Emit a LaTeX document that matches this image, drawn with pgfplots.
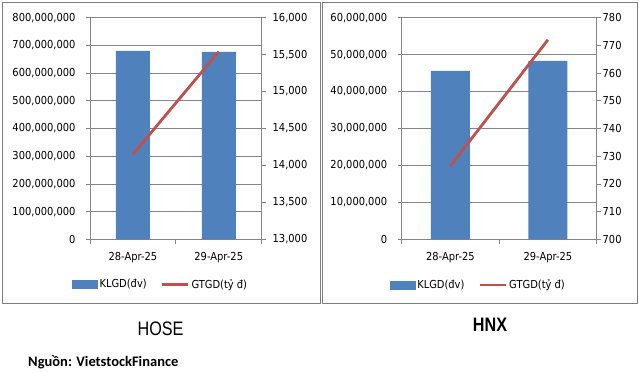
\documentclass[border=0pt]{standalone}
\usepackage{pgfplots}
\pgfplotsset{compat=1.18}
\usepackage{fontspec}
\setmainfont{DejaVu Sans}[FakeStretch=0.9]
\newfontfamily\titlefont{Liberation Sans}
\newfontfamily\srcfont{Carlito}
\definecolor{barblue}{HTML}{4F81BD}
\definecolor{linered}{HTML}{C0504D}
\definecolor{gridgray}{HTML}{868686}
\definecolor{boxgray}{HTML}{7F7F7F}
\pgfplotsset{
  common/.style={
    scale only axis, xmin=-0.5, xmax=1.5,
    tick align=outside, major tick length=4bp, minor tick length=5bp,
    tick style={draw=gridgray, line width=0.75bp},
    axis line style={draw=gridgray, line width=0.75bp, -},
    scaled y ticks=false,
    tick label style={font=\fontsize{11bp}{13bp}\selectfont},
    yticklabel style={/pgf/number format/fixed, /pgf/number format/precision=0,
      /pgf/number format/1000 sep={,}, /pgf/number format/assume math mode=true},
  },
  leftaxis/.style={
    common,
    axis x line*=bottom, axis y line*=left,
    xtick={0,1}, xticklabels={28-Apr-25,29-Apr-25},
    major x tick style={draw=none},
    minor xtick={-0.5,0.5,1.5},
    minor x tick style={draw=gridgray, line width=0.75bp},
    xticklabel style={yshift=-5bp},
    yticklabel style={xshift=-7bp},
    ymajorgrids, grid style={draw=gridgray, line width=0.75bp},
  },
  rightaxis/.style={
    common,
    axis y line*=right, axis x line=none,
    legend columns=2,
    legend style={draw=none, fill=none, inner sep=0pt, anchor=west,
      font=\fontsize{11bp}{13bp}\selectfont,
      /tikz/every even column/.append style={column sep=12bp}},
    legend cell align=left,
  },
  barlegend/.style={legend image code/.code={\fill[barblue] (0bp,-4bp) rectangle (25bp,4bp);}},
  linelegend/.style={legend image code/.code={\draw[linered, line width=2.8bp] (0bp,0bp) -- (26bp,0bp);}},
}
\begin{document}
\begin{tikzpicture}
\useasboundingbox (0,0) rectangle (639bp,373bp);
\draw[boxgray, line width=1bp] (2bp,370bp) rectangle (320bp,69bp);
\draw[boxgray, line width=1bp] (322bp,370bp) rectangle (637bp,69bp);
% HOSE
\begin{axis}[leftaxis, at={(90bp,133.67bp)}, anchor=south west, width=171.67bp, height=221.67bp,
  ymin=0, ymax=800000000,
  ytick={0,100000000,200000000,300000000,400000000,500000000,600000000,700000000,800000000}]
\addplot[ybar, bar width=34bp, fill=barblue, draw=none] coordinates {(0,679700000) (1,676100000)};
\end{axis}
\begin{axis}[rightaxis, at={(90bp,133.67bp)}, anchor=south west, width=171.67bp, height=221.67bp,
  ymin=13000, ymax=16000, ytick={13000,13500,14000,14500,15000,15500,16000},
  yticklabel style={xshift=3.5bp},
  legend style={at={(-0.105,-0.203)}}]
\addlegendimage{barlegend}
\addlegendentry{KLGD(đv)}
\addplot[linered, line width=2.8bp, linelegend] coordinates {(0,14150) (1,15540)};
\addlegendentry{GTGD(tỷ đ)}
\end{axis}
% HNX
\begin{axis}[leftaxis, at={(401.67bp,133.67bp)}, anchor=south west, width=195bp, height=221.67bp,
  ymin=0, ymax=60000000,
  ytick={0,10000000,20000000,30000000,40000000,50000000,60000000}]
\addplot[ybar, bar width=39bp, fill=barblue, draw=none] coordinates {(0,45570000) (1,48270000)};
\end{axis}
\begin{axis}[rightaxis, at={(401.67bp,133.67bp)}, anchor=south west, width=195bp, height=221.67bp,
  ymin=700, ymax=780, ytick={700,710,720,730,740,750,760,770,780},
  yticklabel style={xshift=-1.5bp},
  legend style={at={(-0.0615,-0.206)}}]
\addlegendimage{barlegend}
\addlegendentry{KLGD(đv)}
\addplot[linered, line width=2.8bp, linelegend] coordinates {(0,726.5) (1,772)};
\addlegendentry{GTGD(tỷ đ)}
\end{axis}
\node[anchor=base, inner sep=0pt, xscale=0.83] at (160.5bp,38bp) {\titlefont\fontsize{19.5bp}{22bp}\selectfont HOSE};
\node[anchor=base, inner sep=0pt, xscale=0.83] at (490bp,41bp) {\titlefont\fontsize{19.5bp}{22bp}\selectfont\bfseries HNX};
\node[anchor=base west, inner sep=0pt] at (28bp,7bp) {\srcfont\bfseries\fontsize{14.5bp}{16bp}\selectfont Nguồn: VietstockFinance};
\end{tikzpicture}
\end{document}
